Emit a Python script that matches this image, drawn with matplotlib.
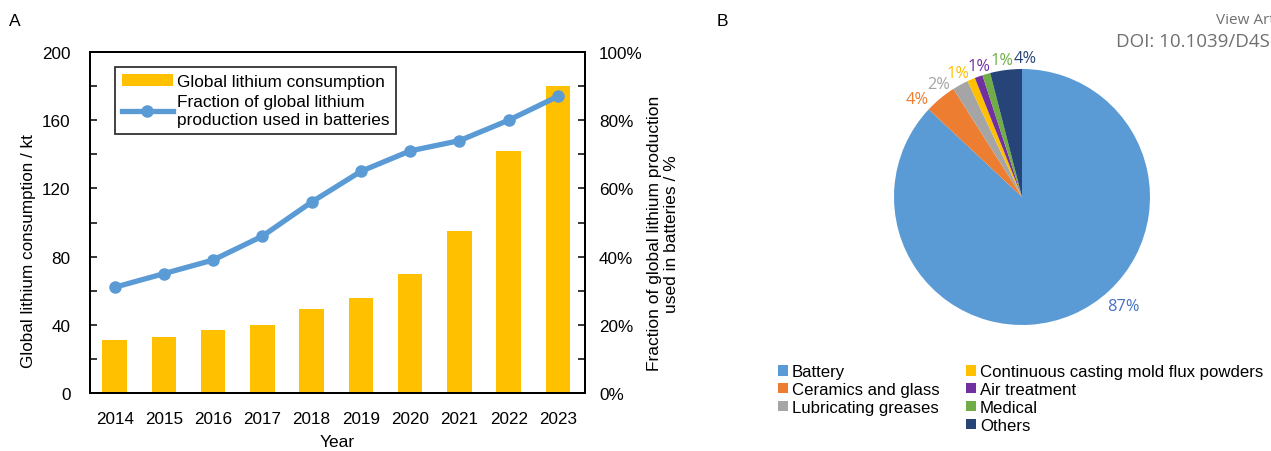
import matplotlib.pyplot as plt
from matplotlib.patches import Patch
import numpy as np

plt.rcParams['font.family'] = ['Liberation Sans', 'DejaVu Sans']

years = ['2014', '2015', '2016', '2017', '2018', '2019', '2020', '2021', '2022', '2023']
consumption = [31, 33, 37, 40, 49, 56, 70, 95, 142, 180]
battery_fraction = [31, 35, 39, 46, 56, 65, 71, 74, 80, 87]

uses = ['Battery', 'Ceramics and glass', 'Lubricating greases',
        'Continuous casting mold flux powders', 'Air treatment', 'Medical', 'Others']
shares = [87, 4, 2, 1, 1, 1, 4]
pie_colors = ['#5B9BD5', '#ED7D31', '#A5A5A5', '#FFC000', '#7030A0', '#70AD47', '#264478']
label_colors = ['#4472C4', '#ED7D31', '#A5A5A5', '#FFC000', '#7030A0', '#70AD47', '#264478']

W, H = 1271, 452
fig = plt.figure(figsize=(W / 100, H / 100), dpi=100)

# ---- panel A
ax = fig.add_axes([90 / W, (H - 394) / H, 495 / W, 341 / H])
x = np.arange(len(years))
bars = ax.bar(x, consumption, width=0.5, color='#FFC000', label='Global lithium consumption')
ax.set_xlim(-0.5, 9.55)
ax.set_ylim(0, 200)
ax.set_yticks([0, 40, 80, 120, 160, 200])
ax.set_yticks(np.arange(20, 200, 40), minor=True)
ax.set_xticks(x)
ax.set_xticklabels(years)
ax.tick_params(direction='in', labelsize=12.3, length=5, width=1.1)
ax.tick_params(axis='y', which='minor', direction='in', length=5, width=1.1)
ax.tick_params(axis='y', pad=14)
ax.tick_params(axis='x', length=0, pad=13)
ax.set_xlabel('Year', fontsize=12.5, labelpad=6)
ax.set_ylabel('Global lithium consumption / kt', fontsize=12.3)
ax.yaxis.set_label_coords(-0.11, 0.42)

ax2 = ax.twinx()
line, = ax2.plot(x, battery_fraction, color='#5B9BD5', lw=3.8, marker='o', markersize=8,
                 label='Fraction of global lithium\nproduction used in batteries')
ax2.set_ylim(0, 100)
ax2.set_yticks([0, 20, 40, 60, 80, 100])
ax2.set_yticks(np.arange(10, 100, 20), minor=True)
ax2.set_yticklabels([f'{v}%' for v in [0, 20, 40, 60, 80, 100]])
ax2.tick_params(direction='in', labelsize=12.3, length=5, width=1.1, pad=10)
ax2.tick_params(which='minor', direction='in', length=5, width=1.1)
ax2.set_ylabel('Fraction of global lithium production\nused in batteries / %', fontsize=12.5)
ax2.yaxis.set_label_coords(1.125, 0.47)
for a in (ax, ax2):
    for s in a.spines.values():
        s.set_linewidth(1.4)

leg = ax.legend([bars, line], [bars.get_label(), line.get_label()], loc='upper left',
                bbox_to_anchor=(0.05, 0.955), fontsize=12.4, frameon=True, fancybox=False,
                edgecolor='black', handlelength=3.0, labelspacing=0.3, borderpad=0.4,
                handletextpad=0.2, borderaxespad=0)
leg.get_frame().set_linewidth(1.3)

fig.text(15 / W, 1 - 22 / H, 'A', fontsize=12.5, va='center', ha='center')
fig.text(722 / W, 1 - 22 / H, 'B', fontsize=12.5, va='center', ha='center')

# ---- panel B
r = 128
axp = fig.add_axes([(1022 - r) / W, (H - 198 - r) / H, 2 * r / W, 2 * r / H])
wedges, _ = axp.pie(shares, colors=pie_colors, startangle=90, counterclock=False,
                    wedgeprops=dict(linewidth=0))
axp.set_xlim(-1, 1)
axp.set_ylim(-1, 1)
label_angles = [-47, 137, 126.5, 117.5, 108, 98.5, 88.5]
label_dist = [1.16, 1.12, 1.1, 1.09, 1.08, 1.08, 1.09]
for v, ang, d, c in zip(shares, label_angles, label_dist, label_colors):
    t = np.deg2rad(ang)
    axp.text(d * np.cos(t), d * np.sin(t), f'{v}%', color=c, fontsize=11.8,
             ha='center', va='center', family=['Open Sans', 'DejaVu Sans'])

# first column holds three entries, second four
blank = Patch(facecolor='none', edgecolor='none')
handles = wedges[:3] + [blank] + wedges[3:]
labels = uses[:3] + [''] + uses[3:]
fig.legend(handles, labels, loc='upper left', bbox_to_anchor=(770 / W, 1 - 357 / H), ncol=2,
           fontsize=12.1, frameon=False, handlelength=0.55, handleheight=0.55,
           handletextpad=0.25, labelspacing=0.17, columnspacing=1.6, borderpad=0)

fig.text(1216 / W, 1 - 20 / H, 'View Article Online', color='#707070', fontsize=11,
         ha='left', va='center', family=['Open Sans', 'DejaVu Sans'])
fig.text(1116 / W, 1 - 42 / H, 'DOI: 10.1039/D4SE00000A', color='#707070', fontsize=13.5,
         ha='left', va='center', family=['Open Sans', 'DejaVu Sans'])

fig.savefig('out.png', dpi=100)
